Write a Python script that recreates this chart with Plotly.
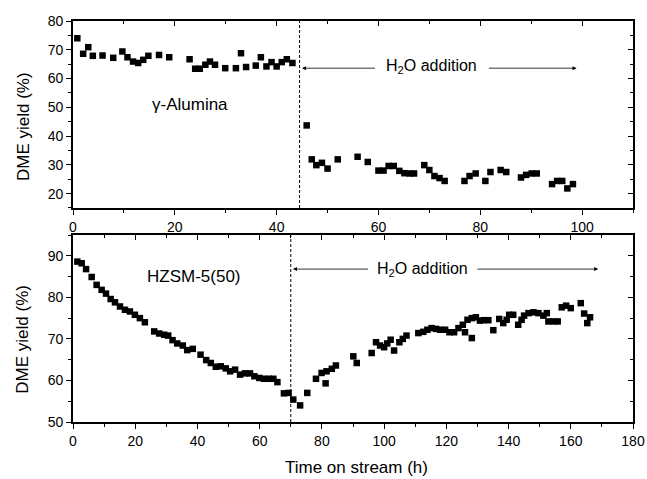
import plotly.graph_objects as go

# Top panel: gamma-Alumina
alu_t = [0.85, 2.0, 3.0, 3.9, 5.8, 7.9, 9.7, 10.7, 11.8, 12.8, 13.8, 14.8, 16.9, 18.9,
         22.9, 24.0, 24.9, 26.0, 26.9, 27.9, 29.9, 32.0, 33.0, 34.0, 35.9, 36.9, 38.0,
         39.0, 40.0, 41.0, 42.0, 43.1,
         45.9, 46.9, 47.8, 48.9, 50.0, 52.0, 55.9, 57.9, 60.0, 61.0, 62.0, 63.0, 64.1,
         65.1, 66.1, 67.0, 69.0, 70.0, 71.0, 72.0, 73.0, 76.9, 77.9, 79.1, 81.0, 82.0,
         84.0, 85.1, 88.0, 89.0, 90.1, 91.1, 94.1, 95.1, 96.1, 97.1, 98.2]
alu_y = [74.0, 68.6, 70.9, 67.9, 68.0, 67.2, 69.4, 67.4, 65.9, 65.4, 66.5, 67.9, 68.2, 67.4,
         66.7, 63.4, 63.4, 64.8, 65.9, 64.8, 63.6, 63.6, 68.8, 64.0, 64.5, 67.4, 64.2,
         65.7, 64.2, 65.7, 66.7, 65.4,
         43.7, 31.9, 29.9, 30.7, 28.7, 31.9, 32.8, 31.0, 28.0, 28.0, 29.6, 29.6, 27.9,
         27.1, 27.0, 27.0, 29.9, 28.2, 26.1, 25.4, 24.4, 24.4, 26.1, 27.0, 24.4, 27.5,
         28.2, 27.5, 25.6, 26.5, 27.0, 27.0, 23.3, 24.4, 24.4, 21.8, 23.3]

# Bottom panel: HZSM-5(50)
hz_t = [1.4, 2.8, 4.2, 6.0, 7.6, 9.2, 10.6, 12.1, 13.5, 15.1, 16.7, 18.3, 19.9, 21.5, 23.1,
        26.1, 27.7, 29.3, 30.6, 32.0, 33.5, 35.3, 36.7, 38.5, 41.0, 42.8, 44.3, 45.9,
        47.5, 49.1, 50.5, 52.1, 53.7, 55.3, 56.9, 58.3, 59.9, 61.4, 63.0, 64.4, 65.7,
        67.8, 69.3, 70.8, 73.0, 75.3, 78.1, 79.9, 81.2, 81.5, 83.2, 84.5, 90.1, 91.2,
        96.0, 97.4, 98.7, 100.0, 101.0, 102.1, 103.2, 104.9, 106.0, 107.2, 111.0, 112.6,
        113.9, 115.3, 116.7, 118.0, 119.6, 121.0, 122.5, 123.9, 125.3, 126.0, 126.8,
        128.2, 128.2, 129.5, 130.8, 132.1, 133.5, 135.1, 137.0, 138.3, 139.4, 140.2,
        141.5, 143.1, 144.2, 145.0, 146.4, 148.0, 149.6, 151.2, 152.3, 152.8, 154.4,
        155.8, 157.1, 158.5, 160.0, 163.2, 164.3, 165.3, 166.2]
hz_y = [88.6, 88.2, 86.8, 84.9, 83.0, 81.8, 80.9, 79.6, 78.8, 77.8, 77.0, 76.6, 75.8, 75.0, 74.0,
        71.8, 71.3, 71.0, 70.8, 69.7, 68.9, 68.4, 67.3, 67.6, 66.2, 64.9, 64.2, 63.3,
        63.4, 62.9, 62.2, 62.6, 61.4, 61.7, 61.7, 61.0, 60.6, 60.4, 60.4, 60.4, 59.6,
        56.9, 57.0, 55.4, 54.0, 57.0, 60.4, 61.8, 59.3, 62.2, 62.8, 63.6, 65.8, 64.2,
        66.6, 69.2, 68.4, 68.0, 68.9, 69.8, 67.2, 69.2, 70.0, 70.8, 71.4, 71.7,
        72.2, 72.6, 72.4, 72.2, 72.2, 71.6, 71.6, 72.6, 73.4, 71.6, 74.6,
        70.2, 75.0, 75.2, 74.4, 74.5, 74.5, 72.1, 74.8, 73.8, 74.6, 75.8,
        75.8, 73.4, 74.6, 75.6, 76.2, 76.4, 76.2, 75.6, 76.2, 74.2, 74.2,
        74.2, 77.6, 78.0, 77.4, 78.6, 76.1, 73.8, 75.2]

top_xticks = [0, 20, 40, 60, 80, 100]
top_yticks = [20, 30, 40, 50, 60, 70, 80]
bot_xticks = [0, 20, 40, 60, 80, 100, 120, 140, 160, 180]
bot_yticks = [50, 60, 70, 80, 90]

FONT = "Arial, Liberation Sans, Helvetica, sans-serif"
mk = dict(symbol="square", size=6.5, color="black")

fig = go.Figure()
fig.add_trace(go.Scatter(x=alu_t, y=alu_y, mode="markers", marker=mk, xaxis="x", yaxis="y"))
fig.add_trace(go.Scatter(x=hz_t, y=hz_y, mode="markers", marker=mk, xaxis="x2", yaxis="y2"))
# empty traces for inward mirror-tick axes
fig.add_trace(go.Scatter(x=[], y=[], xaxis="x3", yaxis="y3"))
fig.add_trace(go.Scatter(x=[], y=[], xaxis="x4", yaxis="y4"))

top_dom = [0.5337, 1.0]
bot_dom = [0.0, 0.4663]

def main_x(rng, ticks, anchor):
    return dict(range=rng, tickvals=ticks, showgrid=False, zeroline=False, automargin=False,
                showline=True, linecolor="black", linewidth=1.6, mirror=True,
                ticks="outside", ticklen=5, tickwidth=1.2, tickcolor="black",
                minor=dict(dtick=10, tick0=0, ticks="outside", ticklen=3, tickwidth=1, tickcolor="black"),
                tickfont=dict(family=FONT, size=14, color="black"), anchor=anchor)

def main_y(rng, ticks, dom, anchor):
    return dict(range=rng, tickvals=ticks, domain=dom, showgrid=False, zeroline=False, automargin=False,
                showline=True, linecolor="black", linewidth=1.6, mirror=True,
                ticks="outside", ticklen=5, tickwidth=1.2, tickcolor="black",
                minor=dict(dtick=5, tick0=0, ticks="outside", ticklen=3, tickwidth=1, tickcolor="black"),
                tickfont=dict(family=FONT, size=14, color="black"), anchor=anchor)

def mirror_x(rng, ticks, over, anchor):
    return dict(range=rng, tickvals=ticks, overlaying=over, side="top", anchor=anchor, automargin=False,
                showgrid=False, zeroline=False, showline=False, showticklabels=False,
                ticks="inside", ticklen=5, tickwidth=1.2, tickcolor="black",
                minor=dict(dtick=10, tick0=0, ticks="inside", ticklen=3, tickwidth=1, tickcolor="black"))

def mirror_y(rng, ticks, over, anchor):
    return dict(range=rng, tickvals=ticks, overlaying=over, side="right", anchor=anchor, automargin=False,
                showgrid=False, zeroline=False, showline=False, showticklabels=False,
                ticks="inside", ticklen=5, tickwidth=1.2, tickcolor="black",
                minor=dict(dtick=5, tick0=0, ticks="inside", ticklen=3, tickwidth=1, tickcolor="black"))

fig.update_layout(
    width=647, height=479,
    margin=dict(l=73, r=14, t=21, b=57),
    paper_bgcolor="white", plot_bgcolor="white",
    showlegend=False,
    font=dict(family=FONT, color="black"),
    xaxis=main_x([0, 110], top_xticks, "y"),
    yaxis=main_y([15, 80], top_yticks, top_dom, "x"),
    xaxis2=main_x([0, 180], bot_xticks, "y2"),
    yaxis2=main_y([50, 95], bot_yticks, bot_dom, "x2"),
    xaxis3=mirror_x([0, 110], top_xticks, "x", "y"),
    yaxis3=mirror_y([15, 80], top_yticks, "y", "x"),
    xaxis4=mirror_x([0, 180], bot_xticks, "x2", "y2"),
    yaxis4=mirror_y([50, 95], bot_yticks, "y2", "x2"),
)

# dashed vertical lines (water addition start)
fig.add_shape(type="line", x0=44.5, x1=44.5, y0=0, y1=1, xref="x", yref="y domain",
              line=dict(color="black", width=1, dash="3px,2px"))
fig.add_shape(type="line", x0=70, x1=70, y0=0, y1=1, xref="x2", yref="y2 domain",
              line=dict(color="black", width=1, dash="3px,2px"))

ann = []
# panel labels
ann.append(dict(x=23, y=51, xref="x", yref="y", text="γ-Alumina", showarrow=False,
                font=dict(size=17, family=FONT)))
ann.append(dict(x=39, y=85, xref="x2", yref="y2", text="HZSM-5(50)", showarrow=False,
                font=dict(size=17, family=FONT)))
# H2O addition texts
ann.append(dict(x=70.5, y=64.2, xref="x", yref="y", text="H<sub>2</sub>O addition", showarrow=False,
                font=dict(size=16, family=FONT)))
ann.append(dict(x=112.4, y=86.8, xref="x2", yref="y2", text="H<sub>2</sub>O addition", showarrow=False,
                font=dict(size=16, family=FONT)))
# arrows
def arrow(xh, yh, xt, xr, yr):
    return dict(x=xh, y=yh, ax=xt, ay=yh, xref=xr, yref=yr, axref=xr, ayref=yr, text="",
                showarrow=True, arrowhead=2, arrowsize=1, arrowwidth=0.8, arrowcolor="black",
                standoff=0, startstandoff=0)
ann.append(arrow(45.0, 63.6, 59.6, "x", "y"))
ann.append(arrow(98.9, 63.6, 81.4, "x", "y"))
ann.append(arrow(70.7, 86.8, 95.3, "x2", "y2"))
ann.append(arrow(168.8, 86.8, 129.5, "x2", "y2"))
# axis titles
ann.append(dict(x=-0.0893, y=0.738, xref="paper", yref="paper", text="DME yield (%)",
                textangle=-90, showarrow=False, xanchor="center", yanchor="middle",
                font=dict(size=17, family=FONT)))
ann.append(dict(x=-0.0893, y=0.2077, xref="paper", yref="paper", text="DME yield (%)",
                textangle=-90, showarrow=False, xanchor="center", yanchor="middle",
                font=dict(size=17, family=FONT)))
ann.append(dict(x=0.507, y=-0.1147, xref="paper", yref="paper", text="Time on stream (h)",
                showarrow=False, xanchor="center", yanchor="middle",
                font=dict(size=17, family=FONT)))
fig.update_layout(annotations=ann)

# remove the browser's default 8px body margin so the 647x479 figure fills the window exactly
fig.write_html("out.html", config={"displayModeBar": False},
               post_script="document.body.style.margin='0';document.body.style.overflow='hidden';")
